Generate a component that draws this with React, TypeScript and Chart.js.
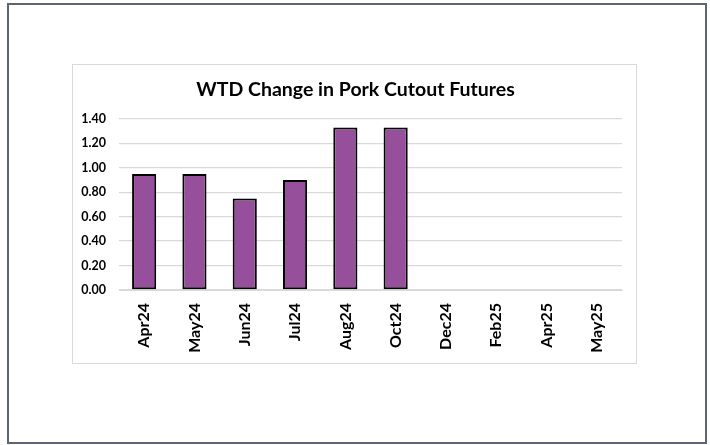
import React, { useEffect, useRef } from "react";
import { Chart, registerables } from "chart.js";

Chart.register(...registerables);

const categories = ["Apr24", "May24", "Jun24", "Jul24", "Aug24", "Oct24", "Dec24", "Feb25", "Apr25", "May25"];
const wtdChange: (number | null)[] = [0.95, 0.95, 0.75, 0.9, 1.33, 1.33, null, null, null, null];
const titleText = "WTD Change in Pork Cutout Futures";
const yMin = 0;
const yMax = 1.4;
const yStep = 0.2;

export default function App() {
  const ref = useRef<HTMLCanvasElement | null>(null);

  useEffect(() => {
    if (!ref.current) return;
    const chart = new Chart(ref.current, {
      type: "bar",
      data: {
        labels: categories,
        datasets: [
          {
            data: wtdChange,
            backgroundColor: "#954F9B",
            borderColor: "#000000",
            borderWidth: 2,
            borderSkipped: false,
            categoryPercentage: 1,
            barPercentage: 0.48,
            yAxisID: "y",
          },
        ],
      },
      options: {
        animation: false,
        responsive: false,
        maintainAspectRatio: false,
        layout: { padding: { left: 0, right: 0, top: 3, bottom: 0 } },
        plugins: {
          legend: { display: false },
          tooltip: { enabled: false },
          title: {
            display: true,
            text: titleText,
            color: "#000000",
            font: { family: "Lato", size: 19.5, weight: "bold" },
            padding: { top: 10, bottom: 17.6 },
          },
        },
        scales: {
          x: {
            grid: { display: false, drawTicks: false },
            border: { display: true, color: "#d9d9d9", width: 1 },
            ticks: {
              color: "#000000",
              font: { family: "Lato", size: 16, weight: "bold" },
              maxRotation: 90,
              minRotation: 90,
              padding: 13,
              autoSkip: false,
            },
            afterFit: (axis: any) => {
              axis.height = 73;
            },
          },
          y: {
            min: yMin,
            max: yMax,
            grid: { color: "#d9d9d9", lineWidth: 1.3, drawTicks: false },
            border: { display: false },
            ticks: {
              stepSize: yStep,
              color: "#000000",
              font: { family: "Lato", size: 12.5, weight: "bold" },
              padding: 13,
              callback: (v: any) => Number(v).toFixed(2),
            },
            afterFit: (axis: any) => {
              axis.width = 46;
            },
          },
          yRight: {
            type: "linear",
            position: "right",
            display: true,
            grid: { display: false, drawTicks: false },
            border: { display: false },
            ticks: { display: false },
            afterFit: (axis: any) => {
              axis.width = 16;
            },
          },
        },
      },
    });
    return () => chart.destroy();
  }, []);

  return (
    <div style={{ position: "absolute", left: 0, top: 0, width: 710, height: 445, background: "#ffffff" }}>
      <div
        style={{
          position: "absolute",
          left: 7,
          top: 3,
          width: 696,
          height: 437,
          border: "2px solid #5b6670",
          background: "#ffffff",
        }}
      />
      <div
        style={{
          position: "absolute",
          left: 72,
          top: 64,
          width: 563,
          height: 298,
          border: "1px solid #d9d9d9",
          background: "#ffffff",
          overflow: "visible",
        }}
      >
        <canvas ref={ref} width={565} height={298} style={{ display: "block", width: 565, height: 298 }} />
      </div>
    </div>
  );
}
